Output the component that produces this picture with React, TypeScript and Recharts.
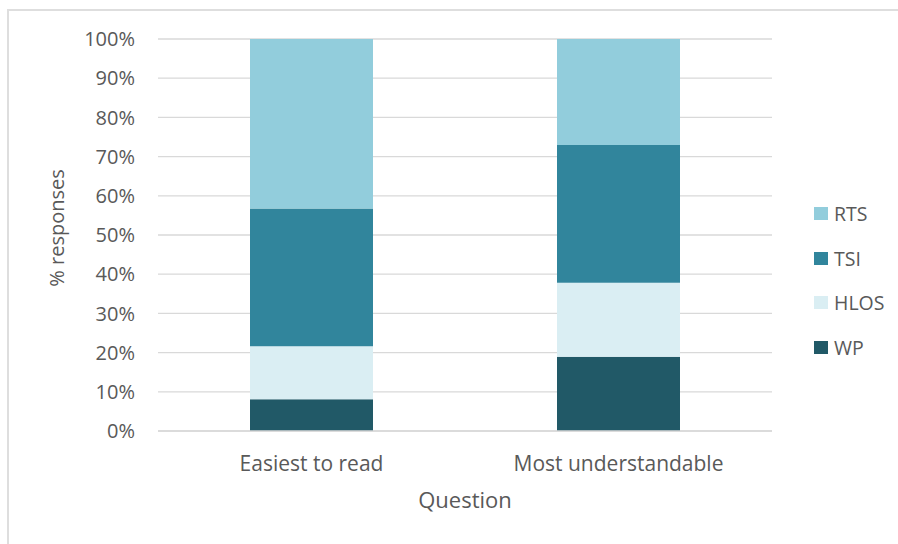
import React from 'react';
import { BarChart, Bar, XAxis, YAxis, CartesianGrid, Label } from 'recharts';

// Responses per question (37 respondents each), stacked to 100%
const questions = ['Easiest to read', 'Most understandable'];
const wp = [3, 7];
const hlos = [5, 7];
const tsi = [13, 13];
const rts = [16, 10];
const yTicks = [0, 0.1, 0.2, 0.3, 0.4, 0.5, 0.6, 0.7, 0.8, 0.9, 1];

// bottom-to-top stack order
const SERIES = [
  { key: 'WP', color: '#215967' },
  { key: 'HLOS', color: '#DAEEF3' },
  { key: 'TSI', color: '#31859C' },
  { key: 'RTS', color: '#92CDDC' },
];

const FONT = '"Open Sans", "Liberation Sans", sans-serif';
const TEXT = '#595959';

const data = questions.map((q, i) => ({
  name: q,
  WP: wp[i],
  HLOS: hlos[i],
  TSI: tsi[i],
  RTS: rts[i],
}));

const YTitle = ({ viewBox }: any) => {
  const x = viewBox.x - 22;
  const y = viewBox.y + viewBox.height / 2 - 7;
  return (
    <text
      x={x}
      y={y}
      transform={`rotate(-90, ${x}, ${y})`}
      textAnchor="middle"
      dominantBaseline="central"
      fill={TEXT}
      fontSize={20}
      fontFamily={FONT}
    >
      % responses
    </text>
  );
};

// legend reads top-down, opposite to the stack
const SideLegend = () => (
  <div style={{ position: 'absolute', left: 814, top: 191, fontFamily: FONT, fontSize: 19.5, color: TEXT }}>
    {[...SERIES].reverse().map((s) => (
      <div key={s.key} style={{ display: 'flex', alignItems: 'center', height: 44.7 }}>
        <span style={{ width: 14, height: 13, background: s.color, marginRight: 6, display: 'inline-block' }} />
        <span>{s.key}</span>
      </div>
    ))}
  </div>
);

export default function App() {
  return (
    <div style={{ position: 'absolute', left: 0, top: 0, width: 898, height: 544, overflow: 'hidden', background: '#fff' }}>
      <div
        style={{
          position: 'absolute',
          left: 7,
          top: 9,
          width: 920,
          height: 580,
          borderTop: '2px solid #dedede',
          borderLeft: '2px solid #dedede',
        }}
      />
      <div style={{ position: 'absolute', left: 0, top: 0 }}>
        <BarChart
          width={898}
          height={544}
          data={data}
          stackOffset="expand"
          margin={{ top: 39, right: 126, bottom: 31, left: 78 }}
          barSize={123}
        >
          <CartesianGrid vertical={false} stroke="#d9d9d9" strokeWidth={1.3} />
          <XAxis
            dataKey="name"
            height={82}
            tickLine={false}
            axisLine={{ stroke: '#d9d9d9', strokeWidth: 1.3 }}
            tickMargin={19}
            tick={{ fill: TEXT, fontSize: 21, fontFamily: FONT }}
          >
            <Label value="Question" position="insideBottom" offset={5} fill={TEXT} fontSize={22} fontFamily={FONT} />
          </XAxis>
          <YAxis
            width={80}
            domain={[0, 1]}
            ticks={yTicks}
            tickFormatter={(v: number) => `${Math.round(v * 100)}%`}
            tickLine={false}
            axisLine={false}
            tickMargin={17}
            tick={{ fill: TEXT, fontSize: 20, fontFamily: FONT }}
          >
            <Label content={<YTitle />} />
          </YAxis>
          {SERIES.map((s) => (
            <Bar key={s.key} dataKey={s.key} stackId="a" fill={s.color} isAnimationActive={false} />
          ))}
        </BarChart>
      </div>
      <SideLegend />
    </div>
  );
}
